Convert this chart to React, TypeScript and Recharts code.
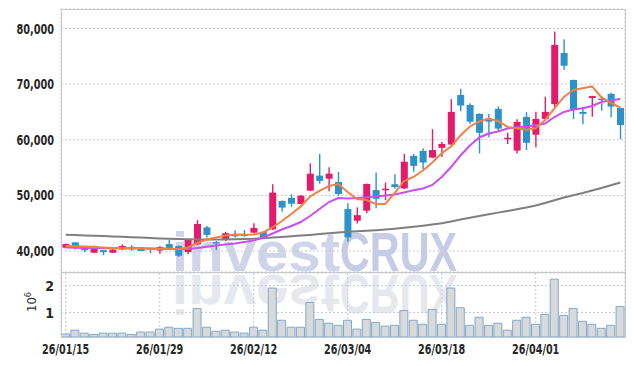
import { ComposedChart, Bar, Line, XAxis, YAxis, CartesianGrid } from 'recharts';

const dates = [
  '26/01/15', '26/01/16', '26/01/19', '26/01/20', '26/01/21', '26/01/22', '26/01/23', '26/01/26', '26/01/27', '26/01/28',
  '26/01/29', '26/01/30', '26/02/02', '26/02/03', '26/02/04', '26/02/05', '26/02/06', '26/02/09', '26/02/10', '26/02/11',
  '26/02/12', '26/02/13', '26/02/19', '26/02/20', '26/02/23', '26/02/24', '26/02/25', '26/02/26', '26/02/27', '26/03/03',
  '26/03/04', '26/03/05', '26/03/06', '26/03/09', '26/03/10', '26/03/11', '26/03/12', '26/03/13', '26/03/16', '26/03/17',
  '26/03/18', '26/03/19', '26/03/20', '26/03/23', '26/03/24', '26/03/25', '26/03/26', '26/03/27', '26/03/30', '26/03/31',
  '26/04/01', '26/04/02', '26/04/03', '26/04/06', '26/04/07', '26/04/08', '26/04/09', '26/04/10', '26/04/13', '26/04/14',
];
const tickDates = ['26/01/15', '26/01/29', '26/02/12', '26/03/04', '26/03/18', '26/04/01'];
const priceTicks = [40000, 50000, 60000, 70000, 80000];
const volTicks = [1, 2];

const opens = [
  40600, 41550, 40500, 39700, 40150, 39700, 40300, 40750, 40650, 40500,
  40100, 41250, 40900, 39800, 41200, 44250, 41600, 42150, 42950, 43000,
  43300, 43450, 43900, 49000, 49550, 48450, 50850, 53550, 53000, 52400,
  47550, 45450, 47250, 50950, 50950, 52000, 51250, 57100, 58000, 56800,
  58550, 59150, 68050, 66250, 64650, 63550, 65550, 60150, 58050, 64100,
  60900, 63750, 66400, 75600, 70750, 65000, 67500, 67400, 68250, 65700,
];
const highs = [
  41350, 41600, 40550, 41000, 40200, 40300, 41200, 41050, 40700, 40550,
  40900, 42000, 41000, 42100, 45550, 44500, 41800, 43450, 43750, 43750,
  45000, 43500, 52000, 49100, 50200, 50050, 55750, 57450, 55050, 54200,
  48600, 47850, 52150, 54100, 52300, 53800, 57450, 57450, 58450, 61900,
  59600, 67300, 69150, 66550, 64750, 64650, 66000, 61250, 63700, 64950,
  65050, 67750, 79450, 78050, 70800, 65950, 67900, 67850, 68450, 65750,
];
const lows = [
  40550, 40300, 39800, 39650, 39250, 39650, 40250, 40050, 39950, 39600,
  39500, 40500, 38950, 39400, 41100, 42450, 40200, 41800, 42450, 42550,
  43200, 42300, 43800, 47050, 47950, 48400, 50800, 52150, 50750, 49900,
  41650, 44950, 46800, 47700, 49150, 51200, 51150, 54250, 54750, 56700,
  56900, 59050, 65100, 62850, 57550, 60450, 61450, 59250, 57550, 58150,
  58650, 63650, 65850, 72550, 63700, 62800, 64150, 65200, 64050, 60100,
];
const closes = [
  41250, 40700, 40150, 40900, 39800, 40250, 40900, 40300, 40000, 40200,
  40700, 40550, 39150, 42000, 44850, 42900, 41350, 43200, 42650, 42700,
  44150, 42450, 50500, 47800, 48500, 49950, 53900, 52600, 53900, 50250,
  42450, 46450, 52050, 49400, 51200, 51500, 56050, 55300, 55900, 58150,
  59250, 65000, 66150, 63250, 61250, 63250, 62000, 60350, 63200, 59450,
  63750, 65000, 77050, 73300, 65500, 64650, 67850, 67150, 65950, 62650,
];
// volume in millions of shares
const volumes = [
  0.2, 0.34, 0.23, 0.18, 0.23, 0.23, 0.23, 0.18, 0.27, 0.27,
  0.38, 0.45, 0.41, 0.41, 1.15, 0.45, 0.3, 0.34, 0.27, 0.23,
  0.45, 0.34, 1.91, 0.71, 0.45, 0.45, 1.37, 0.74, 0.6, 0.52,
  0.71, 0.38, 0.74, 0.63, 0.49, 0.52, 1.07, 0.71, 0.56, 1.11,
  0.56, 1.91, 1.18, 0.52, 0.82, 0.52, 0.6, 0.34, 0.71, 0.82,
  0.56, 0.93, 2.24, 0.89, 1.15, 0.67, 0.56, 0.41, 0.52, 1.22,
];
const ma5 = [
  40900, 40850, 40810, 40720, 40630, 40540, 40500, 40490, 40450, 40400,
  40400, 40410, 40320, 40630, 41440, 42070, 42430, 42790, 42970, 42910,
  42970, 43330, 44230, 45390, 46650, 48000, 49800, 50790, 51690, 52050,
  50610, 49350, 49170, 48450, 48450, 50430, 52590, 53310, 54470, 55910,
  57570, 58790, 60770, 62390, 63280, 63820, 63370, 62300, 62060, 61790,
  62060, 63550, 65620, 67690, 68950, 69250, 69580, 67600, 66610, 65800,
];
const ma10 = [
  40630, 40580, 40540, 40540, 40500, 40490, 40500, 40500, 40490, 40450,
  40430, 40410, 40360, 40360, 40540, 40760, 40990, 41170, 41350, 41620,
  41890, 42430, 43150, 43870, 44500, 45210, 46290, 47550, 48810, 49530,
  49440, 49530, 49660, 49800, 49980, 50160, 50520, 50910, 51240, 51870,
  53310, 55100, 57170, 58970, 60410, 61130, 61490, 62030, 62240, 62390,
  62600, 62920, 64090, 64990, 65440, 65660, 66070, 66790, 67100, 67330,
];
const ma60 = [
  42910, 42860, 42800, 42750, 42700, 42630, 42550, 42480, 42410, 42340,
  42270, 42210, 42160, 42100, 42070, 42050, 42050, 42070, 42100, 42160,
  42210, 42300, 42410, 42520, 42640, 42770, 42890, 43040, 43180, 43330,
  43450, 43540, 43630, 43740, 43870, 44010, 44170, 44350, 44550, 44760,
  45000, 45300, 45660, 45970, 46290, 46600, 46900, 47190, 47500, 47820,
  48180, 48630, 49130, 49620, 50030, 50430, 50880, 51330, 51810, 52320,
];

const rows = dates.map((date, i) => ({
  date,
  open: opens[i],
  close: closes[i],
  range: [lows[i], highs[i]],
  vol: volumes[i],
  ma5: ma5[i],
  ma10: ma10[i],
  ma60: ma60[i],
}));

const UP = '#e31b6a';
const DOWN = '#2d92c9';
const GRID = '#c6c9de';
const FONT = "'DejaVu Sans Condensed', 'Liberation Sans', sans-serif";

// narrow, DIN-like tick labels: squeeze the glyphs to the reference width
function tickWidth(s: string) {
  let w = 0;
  for (const ch of s) w += /[0-9]/.test(ch) ? 7 : 2.6;
  return w;
}

function AxisTick(props: any) {
  const { x, y, payload, textAnchor, tickFormatter, shift } = props;
  const label = tickFormatter ? tickFormatter(payload.value) : String(payload.value);
  const extra = label.length > 1 ? { textLength: tickWidth(label), lengthAdjust: 'spacingAndGlyphs' } : {};
  return (
    <text
      x={x}
      y={y}
      dy={shift}
      textAnchor={textAnchor}
      fill="#262626"
      fontSize={14}
      fontWeight={700}
      fontFamily={FONT}
      {...extra}
    >
      {label}
    </text>
  );
}

function Candle(props: any) {
  const { x, y, width, height, payload } = props;
  if (!payload) return null;
  const { open, close, range } = payload;
  const [low, high] = range;
  const k = high === low ? 0 : height / (high - low);
  const top = y + (high - Math.max(open, close)) * k;
  const bot = y + (high - Math.min(open, close)) * k;
  const color = close >= open ? UP : DOWN;
  const cx = x + width / 2;
  return (
    <g>
      <line x1={cx} x2={cx} y1={y} y2={y + height} stroke={color} strokeWidth={1.4} />
      <rect x={x} y={top} width={width} height={Math.max(bot - top, 1.5)} fill={color} />
    </g>
  );
}

function VolUnit(props: any) {
  const vb = props.viewBox || { x: 0, y: 0, height: 0 };
  const cy = vb.y + vb.height / 2 - 3;
  return (
    <text
      transform={`translate(36,${cy}) rotate(-90)`}
      textAnchor="middle"
      fill="#333"
      fontSize={13}
      fontFamily={FONT}
    >
      <tspan>10</tspan>
      <tspan dy={-5} fontSize={9}>6</tspan>
    </text>
  );
}

export default function App() {
  return (
    <div style={{ position: 'absolute', left: 0, top: 0, width: 634, height: 366, background: '#fff' }}>
      <svg width={634} height={366} style={{ position: 'absolute', left: 0, top: 0 }}>
        <g fontFamily="'Liberation Sans', Arial, sans-serif" fontWeight={700} fontSize={56}>
          <text x={172} y={271} textLength={168} lengthAdjust="spacingAndGlyphs" fill="#d0d4e9">invest</text>
          <text x={340} y={271} textLength={117} lengthAdjust="spacingAndGlyphs" fill="#c7cce6">CRUX</text>
          <g transform="translate(0,546) scale(1,-1)" fill="#e7e7ee">
            <text x={172} y={271} textLength={168} lengthAdjust="spacingAndGlyphs">invest</text>
            <text x={340} y={271} textLength={117} lengthAdjust="spacingAndGlyphs">CRUX</text>
          </g>
        </g>
      </svg>

      <div style={{ position: 'absolute', left: 0, top: 0 }}>
        <ComposedChart
          width={634}
          height={280}
          data={rows}
          margin={{ top: 9, right: 9, bottom: 8, left: 0 }}
          barCategoryGap="15%"
        >
          <CartesianGrid stroke={GRID} strokeDasharray="2 2" />
          <XAxis dataKey="date" ticks={tickDates} interval={0} tick={false} axisLine={false} tickLine={false} height={0} />
          <YAxis
            domain={[36230, 83500]}
            ticks={priceTicks}
            allowDataOverflow
            width={61}
            axisLine={false}
            tickLine={false}
            tickSize={5}
            tickMargin={2}
            tick={<AxisTick shift="0.36em" />}
            tickFormatter={(v: number) => v.toLocaleString('en-US')}
          />
          <Bar dataKey="range" shape={<Candle />} isAnimationActive={false} />
          <Line dataKey="ma60" type="linear" stroke="#7f7f7f" strokeWidth={2} dot={false} isAnimationActive={false} />
          <Line dataKey="ma10" type="linear" stroke="#c850ee" strokeWidth={2} dot={false} isAnimationActive={false} />
          <Line dataKey="ma5" type="linear" stroke="#f08244" strokeWidth={2} dot={false} isAnimationActive={false} />
        </ComposedChart>
      </div>

      <div style={{ position: 'absolute', left: 0, top: 272 }}>
        <ComposedChart
          width={634}
          height={94}
          data={rows}
          margin={{ top: 1, right: 9, bottom: 0, left: 0 }}
          barCategoryGap="5%"
        >
          <CartesianGrid stroke={GRID} strokeDasharray="2 2" />
          <XAxis
            dataKey="date"
            ticks={tickDates}
            interval={0}
            height={29}
            axisLine={false}
            tickLine={false}
            tickSize={5}
            tickMargin={2}
            tick={<AxisTick shift="0.74em" />}
          />
          <YAxis
            domain={[0.086, 2.47]}
            ticks={volTicks}
            allowDataOverflow
            width={61}
            axisLine={false}
            tickLine={false}
            tickSize={5}
            tickMargin={2}
            tick={<AxisTick shift="0.36em" />}
            label={{ content: <VolUnit /> }}
          />
          <Bar dataKey="vol" fill="#d9d9d9" stroke="#7eaad0" strokeWidth={1} isAnimationActive={false} />
        </ComposedChart>
      </div>

      <div
        style={{
          position: 'absolute',
          left: 61,
          top: 9,
          width: 565,
          height: 329,
          boxSizing: 'border-box',
          border: '1px solid #c8c8c8',
          pointerEvents: 'none',
        }}
      />
      <div style={{ position: 'absolute', left: 61, top: 272, width: 565, height: 1, background: '#c8c8c8' }} />
    </div>
  );
}
